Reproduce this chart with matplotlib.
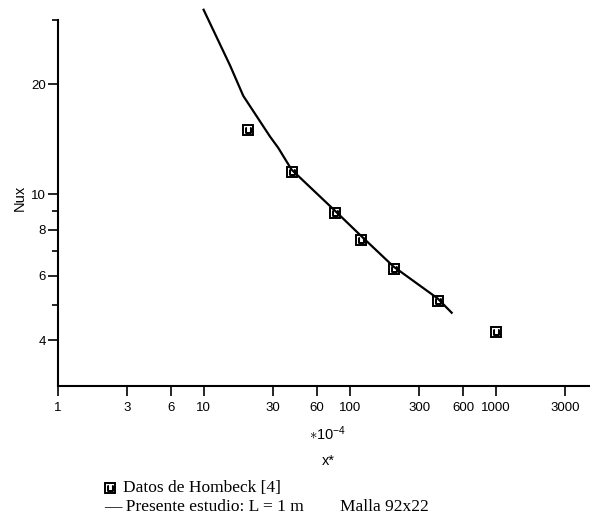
import numpy as np
import matplotlib.pyplot as plt
from matplotlib.lines import Line2D
from matplotlib.ticker import FixedLocator, NullFormatter

plt.rcParams['font.family'] = ['Liberation Sans', 'DejaVu Sans']
plt.rcParams['mathtext.fontset'] = 'custom'
plt.rcParams['mathtext.rm'] = 'Liberation Sans'
plt.rcParams['mathtext.it'] = 'Liberation Sans'

# Hornbeck data (squares)
x_data = [20, 40, 80, 120, 200, 400, 1000]
nu_data = [15.0, 11.5, 8.9, 7.5, 6.25, 5.1, 4.2]

# present study (curve)
x_curve = [10, 15.2, 18.7, 28.5, 32.5, 40, 80, 120, 200, 400, 500]
nu_curve = [32.0, 22.5, 18.6, 14.4, 13.4, 11.7, 9.0, 7.7, 6.35, 5.2, 4.75]

x_ticks = [1, 3, 6, 10, 30, 60, 100, 300, 600, 1000, 3000]
y_ticks = [4, 6, 8, 10, 20]
y_minor = [5, 7, 9, 30]

W, H = 590, 522
fig = plt.figure(figsize=(W / 100, H / 100), dpi=100)
ax = fig.add_axes([57.6 / W, 1 - 385.7 / H, 1 - 57.6 / W, (385.7 - 20) / H])

ax.plot(x_curve, nu_curve, color='black', lw=1.6, clip_on=False)
ax.plot(x_data, nu_data, ls='none', marker='s', ms=6.5, mfc='none',
        mec='black', mew=1.4)
ax.plot(x_data, nu_data, ls='none', marker=r'$\sqcup$', ms=4, color='black')

ax.set_xscale('log')
ax.set_yscale('log')
ax.set_xlim(1, 4430)
ax.set_ylim(3, 30)

ax.xaxis.set_major_locator(FixedLocator(x_ticks))
ax.set_xticklabels([str(t) for t in x_ticks])
ax.xaxis.set_minor_locator(FixedLocator([]))
ax.yaxis.set_major_locator(FixedLocator(y_ticks))
ax.set_yticklabels([str(t) for t in y_ticks])
ax.yaxis.set_minor_locator(FixedLocator(y_minor))
ax.yaxis.set_minor_formatter(NullFormatter())

ax.tick_params(axis='both', which='major', direction='out', length=7,
               width=1.2, labelsize=9.5, pad=1.5)
ax.tick_params(axis='x', which='major', pad=5)
ax.tick_params(axis='y', which='minor', direction='out', length=4, width=1.2)

for s in ['top', 'right']:
    ax.spines[s].set_visible(False)
for s in ['left', 'bottom']:
    ax.spines[s].set_linewidth(1.5)

fig.text(20 / W, 1 - 198 / H, 'Nux', rotation=90, ha='center', va='center',
         fontsize=10.5)
fig.text(328 / W, 1 - 434 / H, r'$\ast10^{-4}$', ha='center', va='center',
         fontsize=10.5)
fig.text(328 / W, 1 - 461 / H, 'x*', ha='center', va='center', fontsize=10.5)

# legend below the plot
fig.add_artist(Line2D([110 / W], [1 - 488 / H], marker='s', ms=6.5, mfc='none',
                      mec='black', mew=1.4, transform=fig.transFigure))
fig.add_artist(Line2D([110 / W], [1 - 488 / H], marker=r'$\sqcup$', ms=4,
                      color='black', transform=fig.transFigure))
fig.text(123 / W, 1 - 488 / H, 'Datos de Hombeck [4]', ha='left',
         va='center', fontsize=12.5, family='Liberation Serif')
fig.text(104 / W, 1 - 507 / H, '— Presente estudio: L = 1 m', ha='left',
         va='center', fontsize=12.5, family='Liberation Serif')
fig.text(340 / W, 1 - 507 / H, 'Malla 92x22', ha='left', va='center',
         fontsize=12.5, family='Liberation Serif')

fig.savefig('out.png', dpi=100)
